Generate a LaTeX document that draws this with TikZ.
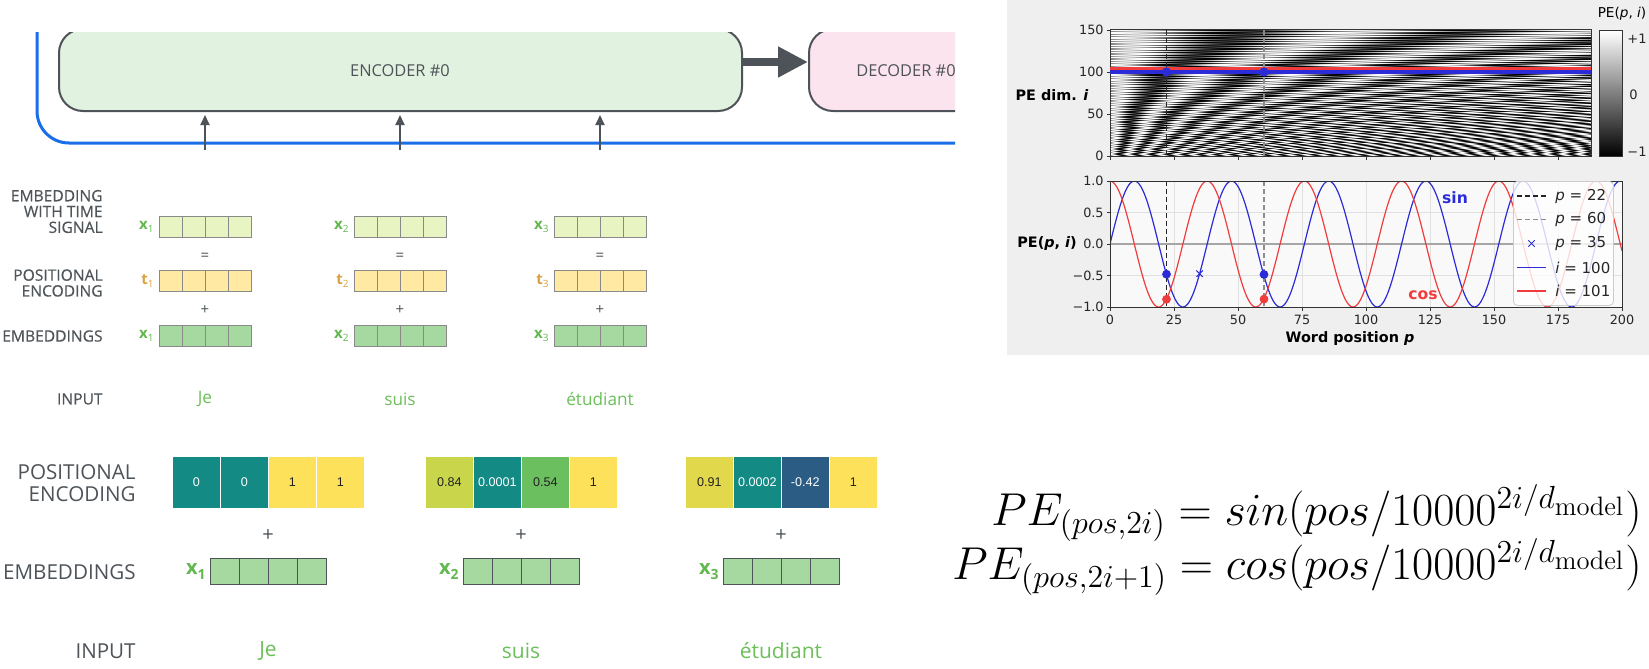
\documentclass[tikz,border=0pt]{standalone}
\usepackage{amsmath}
\usepackage{fontspec}
\usepackage{graphicx}
\usetikzlibrary{arrows.meta,calc}
\newfontfamily\osans{Open Sans}
\newfontfamily\osansm{Open Sans}[FakeBold=0.4]
\newfontfamily\dejavu{DejaVu Sans}
\newfontfamily\libsans{Liberation Sans}
\definecolor{bgpanel}{HTML}{EFEFEF}
\definecolor{plotbg}{HTML}{F9F9F9}
\definecolor{dgray}{HTML}{4D5358}
\definecolor{lgray}{HTML}{50555A}
\definecolor{encfill}{HTML}{E2F2E0}
\definecolor{decfill}{HTML}{FCE4EE}
\definecolor{bline}{HTML}{1A6FE8}
\definecolor{xfill}{HTML}{E8F5C2}
\definecolor{tfill}{HTML}{FFE9A3}
\definecolor{efill}{HTML}{A5D9A0}
\definecolor{cellborder}{HTML}{8A8A8A}
\definecolor{xgreen}{HTML}{62B84E}
\definecolor{torange}{HTML}{D9A13F}
\definecolor{wgreen}{HTML}{6CC05A}
\definecolor{cteal}{HTML}{138A84}
\definecolor{pyel}{HTML}{FDE15A}
\definecolor{pyg}{HTML}{C9D64B}
\definecolor{pgreen}{HTML}{6BBF5F}
\definecolor{pyel2}{HTML}{E2D84B}
\definecolor{pblue}{HTML}{2A5C84}
\definecolor{numdark}{HTML}{222222}
\definecolor{cblue}{HTML}{2B2BD8}
\definecolor{cred}{HTML}{F03C3C}
\definecolor{gridc}{HTML}{E0E0E0}
\newcommand\subd[1]{\raisebox{-0.35ex}{\fontsize{5}{5}\selectfont\mdseries #1}}
\newcommand\subb[1]{\raisebox{-0.4ex}{\fontsize{7}{7}\selectfont #1}}
\pgfdeclarefunctionalshading{pemap}{\pgfpointorigin}{\pgfpoint{240.5pt}{63pt}}{}{%
  2.3893 mul floor
  dup 2 div floor 2 mul
  512 div neg 10000 exch exp
  3 -1 roll
  0.78098 mul mul 57.29578 mul
  exch cvi 2 mod 0 eq
  {sin} {cos} ifelse
  1 add 2 div dup dup
}
\begin{document}
\begin{tikzpicture}[x=0.5pt,y=-0.5pt,
  lab/.style={font=\osansm\fontsize{7.8}{7.9}\selectfont, text=lgray, align=right, anchor=east, inner sep=0},
  blab/.style={font=\osans\fontsize{10.3}{11}\selectfont, text=dgray, align=right, anchor=east, inner sep=0},
  mcell/.style={draw=cellborder, line width=0.4pt, minimum width=11.5pt, minimum height=10.5pt, inner sep=0, anchor=north west},
  bcell/.style={draw=dgray, line width=0.5pt, fill=efill, minimum width=14.5pt, minimum height=13pt, inner sep=0, anchor=north west},
  pcell/.style={draw=white, line width=0.3pt, minimum width=24pt, minimum height=26pt, inner sep=0, anchor=north west, font=\libsans\fontsize{6.3}{7}\selectfont},
  op/.style={font=\osans\fontsize{7.5}{7.5}\selectfont, text=dgray, inner sep=0},
  bop/.style={font=\osans\fontsize{10}{10}\selectfont, text=dgray, inner sep=0},
  word/.style={font=\osans\fontsize{8.6}{9}\selectfont, text=wgreen, inner sep=0},
  bword/.style={font=\osans\fontsize{10.5}{11}\selectfont, text=wgreen, inner sep=0},
  vlab/.style={font=\osans\bfseries\fontsize{7.5}{8}\selectfont, inner sep=0, anchor=east},
  bvlab/.style={font=\osans\bfseries\fontsize{10}{10}\selectfont, text=xgreen, inner sep=0, anchor=east},
  boxlab/.style={font=\osans\fontsize{8.2}{9}\selectfont, text=dgray, inner sep=0},
  tk/.style={font=\dejavu\fontsize{6.4}{7}\selectfont, text=black!85, inner sep=0},
  axl/.style={font=\dejavu\bfseries\fontsize{7.2}{8}\selectfont, inner sep=0},
  lgt/.style={font=\dejavu\fontsize{7.5}{8}\selectfont, text=black!85, inner sep=0, anchor=west},
  dashb/.style={black!85, line width=0.6pt, dash pattern=on 2.5pt off 1.5pt},
  dashg/.style={black!45, line width=0.6pt, dash pattern=on 2.5pt off 1.5pt},
]
\useasboundingbox (0,0) rectangle (1649,669);
\fill[white] (0,0) rectangle (1649,669);

% ---------------- top-left: encoder / decoder ----------------
\begin{scope}
\clip (0,32) rectangle (955,200);
\coordinate (bl1) at (37,0);
\coordinate (bl2) at (37,143);
\coordinate (bl3) at (960,143);
\draw[bline, line width=1.5pt, rounded corners=16pt] (bl1) -- (bl2) -- (bl3);
\node[draw=dgray, line width=1pt, fill=encfill, rounded corners=12pt, minimum width=341.5pt, minimum height=41pt, anchor=north west, inner sep=0] (enc) at (58,28) {};
\node[draw=dgray, line width=1pt, fill=decfill, rounded corners=12pt, minimum width=98pt, minimum height=41pt, anchor=north west, inner sep=0] (dec) at (808,28) {};
\end{scope}
\node[boxlab] (enct) at (400,71) {ENCODER \#0};
\node[boxlab] (dect) at (906,71) {DECODER \#0};
\draw[dgray, line width=4pt, -{Triangle[length=15pt,width=14.5pt]}] ([yshift=4pt]enc.east) -- ([yshift=4pt]dec.west);
\foreach \k/\X in {1/205,2/400,3/600} {
  \coordinate (ua\k) at (\X,150);
  \draw[dgray, line width=0.9pt, -{Triangle[length=5pt,width=4.5pt]}, shorten >=1.5pt] (ua\k) -- (ua\k |- enc.south);
}

% ---------------- middle-left ----------------
\node[lab] (lab1) at (103,211.5) {EMBEDDING\\WITH TIME\\SIGNAL};
\node[lab] (lab2) at (103,283) {POSITIONAL\\ENCODING};
\node[lab] (lab3) at (103,336) {EMBEDDINGS};
\node[lab] (lab4) at (103,399) {INPUT};
\foreach \g/\X/\w in {1/159,2/354,3/554} {
  \foreach \c in {0,1,2,3} {
    \node[mcell, fill=xfill] (xa\g\c) at ({\X+23*\c},216) {};
    \node[mcell, fill=tfill] (ta\g\c) at ({\X+23*\c},270) {};
    \node[mcell, fill=efill] (ea\g\c) at ({\X+23*\c},325) {};
  }
  \node[vlab, text=xgreen] (xl\g) at ([xshift=-2.5pt]xa\g0.west) {x\subd{\g}};
  \node[vlab, text=torange] (tl\g) at ([xshift=-2.5pt]ta\g0.west) {t\subd{\g}};
  \node[vlab, text=xgreen] (el\g) at ([xshift=-2.5pt]ea\g0.west) {x\subd{\g}};
  \node[op] (eq\g) at ({\X+46},257) {=};
  \node[op] (pl\g) at ({\X+46},310) {+};
}
\node[word] (w1) at (205,399) {Je};
\node[word] (w2) at (400,399) {suis};
\node[word] (w3) at (600,399) {étudiant};

% ---------------- bottom-left ----------------
\node[blab] (blab1) at (136,483) {POSITIONAL\\ENCODING};
\node[blab] (blab2) at (136,572) {EMBEDDINGS};
\node[blab] (blab3) at (136,651) {INPUT};
\foreach \n/\X/\fc/\t/\tc in {p1a/172/cteal/0/white, p1b/220/cteal/0/white, p1c/268/pyel/1/numdark, p1d/316/pyel/1/numdark,
  p2a/425/pyg/0.84/numdark, p2b/473/cteal/0.0001/white, p2c/521/pgreen/0.54/numdark, p2d/569/pyel/1/numdark,
  p3a/685/pyel2/0.91/numdark, p3b/733/cteal/0.0002/white, p3c/781/pblue/-0.42/white, p3d/829/pyel/1/numdark} {
  \node[pcell, fill=\fc, text=\tc] (\n) at (\X,456) {\t};
}
\foreach \g/\C/\w in {1/268/Je,2/521/suis,3/781/étudiant} {
  \node[bop] (bp\g) at (\C,536) {+};
  \foreach \c in {0,1,2,3} {
    \node[bcell] (be\g\c) at ({\C-58+29*\c},558) {};
  }
  \node[bvlab] (bx\g) at ([xshift=-2pt]be\g0.west) {x\subb{\g}};
  \node[bword] (bw\g) at (\C,651) {\w};
}

% ---------------- right panel ----------------
\fill[bgpanel] (1007,0) rectangle (1649,355);
% heatmap
\node[inner sep=0, anchor=south west] (hm) at (1110,156) {\pgfuseshading{pemap}};
\draw[black!80, line width=0.4pt] (hm.south west) rectangle (hm.north east);
\coordinate (hr1) at (1110,68.5); \coordinate (hr2) at (1591,68.5);
\coordinate (hb1) at (1110,72); \coordinate (hb2) at (1591,72);
\draw[cred, line width=1.6pt] (hr1) -- (hr2);
\draw[cblue, line width=1.6pt] (hb1) -- (hb2);
\coordinate (hd1t) at (1166.5,30); \coordinate (hd1b) at (1166.5,156);
\coordinate (hd2t) at (1264,30); \coordinate (hd2b) at (1264,156);
\draw[dashb] (hd1t) -- (hd1b);
\draw[dashg] (hd2t) -- (hd2b);
\fill[cblue] (1166.5,72) circle (2.3pt);
\fill[cblue] (1264,72) circle (2.3pt);
\foreach \v/\y in {150/30,100/72,50/114,0/156} {
  \draw[black!80, line width=0.4pt] (1110,\y) -- (1106.5,\y);
  \node[tk, anchor=east] (hy\v) at (1104,\y) {\v};
}
\foreach \p in {0,25,...,175} {
  \draw[black!80, line width=0.4pt] ({1110+2.56*\p},156) -- ({1110+2.56*\p},159.5);
}
\node[axl] (hyl) at (1052,95) {PE dim. {\itshape i}};
% colorbar
\node[inner sep=0, minimum width=11.5pt, minimum height=63pt, anchor=north west, top color=white, bottom color=black, draw=black!80, line width=0.4pt] (cb) at (1599,30) {};
\node[tk, anchor=west, font=\dejavu\fontsize{6.5}{7}\selectfont] (cb1) at (1627,39) {+1};
\node[tk, anchor=west, font=\dejavu\fontsize{6.5}{7}\selectfont] (cb0) at (1629,95) {0};
\node[tk, anchor=west, font=\dejavu\fontsize{6.5}{7}\selectfont] (cbm) at (1627,152) {−1};
\node[font=\dejavu\fontsize{6.8}{7}\selectfont, inner sep=0] (cbt) at (1622,14) {PE({\itshape p}, {\itshape i})};

% lower plot
\fill[plotbg] (1110,181) rectangle (1622,307);
\foreach \p in {25,50,...,175} {
  \draw[gridc, line width=0.4pt] ({1110+2.56*\p},181) -- ({1110+2.56*\p},307);
}
\foreach \v in {0.5,-0.5} {
  \draw[gridc, line width=0.4pt] (1110,{244-63*\v}) -- (1622,{244-63*\v});
}
\draw[black!35, line width=0.9pt] (1110,244) -- (1622,244);
\begin{scope}
\clip (1110,181) rectangle (1622,307);
\draw[cblue, line width=0.6pt] plot[domain=0:200, samples=300, smooth] ({1110+2.56*\x},{244-63*sin(0.1655*\x r)});
\draw[cred, line width=0.6pt] plot[domain=0:200, samples=300, smooth] ({1110+2.56*\x},{244-63*cos(0.1655*\x r)});
\end{scope}
\coordinate (ld1t) at (1166.5,181); \coordinate (ld1b) at (1166.5,307);
\coordinate (ld2t) at (1264,181); \coordinate (ld2b) at (1264,307);
\draw[dashb] (ld1t) -- (ld1b);
\draw[dashg] (ld2t) -- (ld2b);
\fill[cblue] (1166.5,274.2) circle (2.2pt);
\fill[cred] (1166.5,299.3) circle (2.2pt);
\fill[cblue] (1264,274.5) circle (2.2pt);
\fill[cred] (1264,299.1) circle (2.2pt);
\coordinate (xm) at (1199.6,273.7);
\draw[cblue, line width=0.5pt] ([shift={(-1.6pt,-1.6pt)}]xm) -- ([shift={(1.6pt,1.6pt)}]xm);
\draw[cblue, line width=0.5pt] ([shift={(-1.6pt,1.6pt)}]xm) -- ([shift={(1.6pt,-1.6pt)}]xm);
\draw[black!80, line width=0.4pt] (1110,181) rectangle (1622,307);
\foreach \v/\t in {1/1.0,0.5/0.5,0/0.0,-0.5/−0.5,-1/−1.0} {
  \draw[black!80, line width=0.4pt] (1110,{244-63*\v}) -- (1106.5,{244-63*\v});
  \node[tk, anchor=east] at (1104,{244-63*\v}) {\t};
}
\foreach \p in {0,25,...,200} {
  \draw[black!80, line width=0.4pt] ({1110+2.56*\p},307) -- ({1110+2.56*\p},310.5);
  \node[tk, anchor=north] (xt\p) at ({1110+2.56*\p},315) {\p};
}
\node[axl] (xlab) at (1350,339) {Word position {\itshape p}};
\node[axl] (ylab) at (1047,244) {PE({\itshape p}, {\itshape i})};
\node[font=\dejavu\bfseries\fontsize{7.8}{8}\selectfont, text=cblue, inner sep=0] (sinl) at (1455,198) {sin};
\node[font=\dejavu\bfseries\fontsize{7.8}{8}\selectfont, text=cred, inner sep=0] (cosl) at (1423,295) {cos};
% legend
\node[draw=black!20, fill=white, fill opacity=0.8, rounded corners=2pt, anchor=north west, minimum width=50pt, minimum height=62pt, inner sep=0] (leg) at (1513,181) {};
\foreach \k/\y in {1/196,2/219.5,3/243.5,4/267.5,5/291} {
  \coordinate (lga\k) at (1517,\y);
  \coordinate (lgb\k) at (1546,\y);
}
\draw[dashb] (lga1) -- (lgb1);
\draw[dashg] (lga2) -- (lgb2);
\coordinate (lgx) at (1531.5,243.5);
\draw[cblue, line width=0.5pt] ([shift={(-1.6pt,-1.6pt)}]lgx) -- ([shift={(1.6pt,1.6pt)}]lgx);
\draw[cblue, line width=0.5pt] ([shift={(-1.6pt,1.6pt)}]lgx) -- ([shift={(1.6pt,-1.6pt)}]lgx);
\draw[cblue, line width=0.8pt] (lga4) -- (lgb4);
\draw[cred, line width=0.8pt] (lga5) -- (lgb5);
\node[lgt] (lt1) at (1555,196) {{\itshape p} = 22};
\node[lgt] (lt2) at (1555,219.5) {{\itshape p} = 60};
\node[lgt] (lt3) at (1555,243.5) {{\itshape p} = 35};
\node[lgt] (lt4) at (1555,267.5) {{\itshape i} = 100};
\node[lgt] (lt5) at (1555,291) {{\itshape i} = 101};

% ---------------- formulas ----------------
\node[anchor=base east, inner sep=0] (f1) at (1642,525) {\scalebox{1.11}{\fontsize{20.74}{24}\selectfont $PE_{(pos,2i)} = sin(pos/10000^{2i/d_{\mathrm{model}}})$}};
\node[anchor=base east, inner sep=0] (f2) at (1642,579) {\scalebox{1.11}{\fontsize{20.74}{24}\selectfont $PE_{(pos,2i+1)} = cos(pos/10000^{2i/d_{\mathrm{model}}})$}};
\end{tikzpicture}
\end{document}
